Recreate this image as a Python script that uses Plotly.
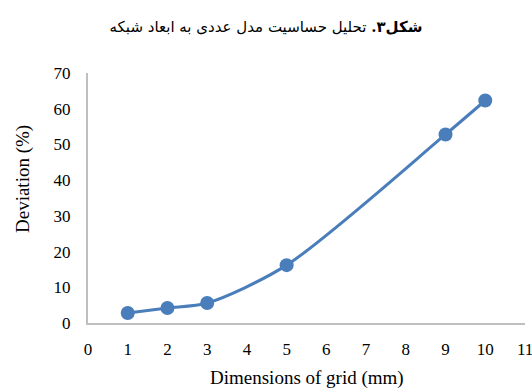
import plotly.graph_objects as go

# Grid size (mm) against deviation of the numerical model (%)
grid_mm = [1, 2, 3, 5, 9, 10]
deviation_pct = [2.8, 4.2, 5.6, 16.2, 52.8, 62.3]

x_ticks = list(range(0, 12))
y_ticks = list(range(0, 80, 10))

blue = "#4a7ebb"
axis_grey = "#bfbfbf"
serif = "Liberation Serif, Times New Roman, serif"
tick_font = dict(family=serif, size=17, color="black")
label_font = dict(family=serif, size=19, color="black")

fig = go.Figure()
fig.add_trace(go.Scatter(
    x=grid_mm,
    y=deviation_pct,
    mode="lines+markers",
    line=dict(color=blue, width=3, shape="spline", smoothing=0.8),
    marker=dict(color=blue, size=14),
    showlegend=False,
    cliponaxis=False,
))

# the last x label runs off the right edge, which plotly would hide, so place it by hand
fig.add_annotation(
    x=x_ticks[-1], xref="x",
    y=0, yref="paper",
    yanchor="middle", xanchor="center",
    yshift=-26,
    text=str(x_ticks[-1]),
    showarrow=False,
    font=tick_font,
)

# axis titles placed in the margins
fig.add_annotation(
    x=0.5, xref="paper",
    y=0, yref="paper",
    yanchor="middle", xanchor="center",
    yshift=-55,
    text="Dimensions of grid (mm)",
    showarrow=False,
    font=label_font,
)
fig.add_annotation(
    x=0, xref="paper",
    y=0.576, yref="paper",
    yanchor="middle", xanchor="center",
    xshift=-65,
    textangle=-90,
    text="Deviation (%)",
    showarrow=False,
    font=label_font,
)

fig.update_layout(
    width=532,
    height=389,
    margin=dict(l=88, r=7, t=73, b=66),
    paper_bgcolor="white",
    plot_bgcolor="white",
    title=dict(
        text="<b>شکل۳.</b> تحلیل حساسیت مدل عددی به ابعاد شبکه",
        x=0.5,
        xanchor="center",
        y=0.93,
        yanchor="middle",
        font=dict(family="DejaVu Serif, DejaVu Sans, serif", size=15, color="black"),
    ),
    xaxis=dict(
        range=[0, 11.0005],
        tickvals=x_ticks[:-1],
        ticktext=[str(v) for v in x_ticks[:-1]],
        showgrid=False,
        zeroline=False,
        showline=True,
        linecolor=axis_grey,
        linewidth=2,
        ticks="",
        ticklabelstandoff=10,
        tickfont=tick_font,
        automargin=False,
    ),
    yaxis=dict(
        range=[0, 70],
        tickvals=y_ticks,
        ticktext=[str(v) for v in y_ticks],
        showgrid=False,
        zeroline=False,
        showline=True,
        linecolor=axis_grey,
        linewidth=2,
        ticks="",
        ticklabelstandoff=12,
        tickfont=tick_font,
        automargin=False,
    ),
)

fig.write_html("out.html")
